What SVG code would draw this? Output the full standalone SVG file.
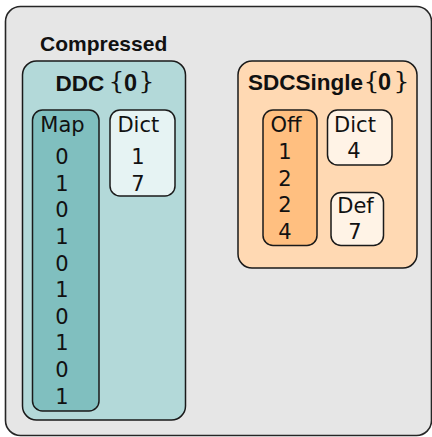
<svg xmlns="http://www.w3.org/2000/svg" width="432" height="437" viewBox="0 0 432 437">
  <style>
    .box { stroke: #1a1a1a; stroke-width: 1.5; }
    .outer { fill: #e6e6e6; stroke: #262626; stroke-width: 1.6; }
    .ddc { fill: #b3d9d9; }
    .map { fill: #80bfbf; }
    .dictT { fill: #e6f3f3; }
    .sdc { fill: #ffd9b3; }
    .off { fill: #ffbf80; }
    .dictO { fill: #fff3e6; }
    .title { font-family: "Liberation Sans", Arial, sans-serif; font-weight: bold; fill: #111; }
    .brace { font-family: "DejaVu Serif", "Liberation Serif", serif; font-weight: normal; fill: #111; }
    .lbl { font-family: "DejaVu Sans", "Liberation Sans", sans-serif; font-size: 21px; fill: #111; text-anchor: middle; }
  </style>

  <!-- outer container -->
  <g id="compressed">
    <rect class="outer" x="5.5" y="6.5" width="426" height="429" rx="15"/>
    <text class="title" x="40" y="50.5" font-size="21">Compressed</text>
  </g>

  <!-- DDC group -->
  <g id="ddc">
    <rect class="box ddc" x="22.5" y="61" width="163" height="359" rx="14"/>
    <text class="title" x="55.5" y="90.5" font-size="22.5">DDC</text>
    <text class="brace" x="108.5" y="89" font-size="25">{</text>
    <text class="title" x="124" y="90.5" font-size="23.5">0</text>
    <text class="brace" x="138.5" y="89" font-size="25">}</text>
  </g>

  <g id="ddc-map">
    <rect class="box map" x="32.5" y="110" width="66.5" height="301" rx="10"/>
    <text class="lbl" x="62.5" y="131.7">Map</text>
    <text class="lbl" x="62" y="164.2">0</text>
    <text class="lbl" x="62" y="190.8">1</text>
    <text class="lbl" x="62" y="217.4">0</text>
    <text class="lbl" x="62" y="244">1</text>
    <text class="lbl" x="62" y="270.6">0</text>
    <text class="lbl" x="62" y="297.2">1</text>
    <text class="lbl" x="62" y="323.8">0</text>
    <text class="lbl" x="62" y="350.4">1</text>
    <text class="lbl" x="62" y="377">0</text>
    <text class="lbl" x="62" y="403.6">1</text>
  </g>

  <g id="ddc-dict">
    <rect class="box dictT" x="110" y="110" width="65" height="86" rx="10"/>
    <text class="lbl" x="138.3" y="131.7">Dict</text>
    <text class="lbl" x="138" y="164.2">1</text>
    <text class="lbl" x="138" y="190.8">7</text>
  </g>

  <!-- SDCSingle group -->
  <g id="sdc">
    <rect class="box sdc" x="238" y="61" width="179" height="207" rx="14"/>
    <text class="title" x="248" y="90" font-size="22.5">SDCSingle</text>
    <text class="brace" x="363.5" y="88.5" font-size="25">{</text>
    <text class="title" x="378" y="90" font-size="23.5">0</text>
    <text class="brace" x="393.5" y="88.5" font-size="25">}</text>
  </g>

  <g id="sdc-off">
    <rect class="box off" x="263" y="110" width="54" height="135.5" rx="10"/>
    <text class="lbl" x="286" y="131.7">Off</text>
    <text class="lbl" x="285" y="159">1</text>
    <text class="lbl" x="285" y="185.7">2</text>
    <text class="lbl" x="285" y="212.3">2</text>
    <text class="lbl" x="285" y="239">4</text>
  </g>

  <g id="sdc-dict">
    <rect class="box dictO" x="327.5" y="110" width="64.5" height="55" rx="10"/>
    <text class="lbl" x="355" y="131.7">Dict</text>
    <text class="lbl" x="354" y="158.3">4</text>
  </g>

  <g id="sdc-def">
    <rect class="box dictO" x="331" y="192.5" width="52.5" height="53" rx="10"/>
    <text class="lbl" x="355.5" y="213.3">Def</text>
    <text class="lbl" x="355" y="239">7</text>
  </g>

  <!-- no connectors in this diagram -->
  <g id="connectors"/>
</svg>
